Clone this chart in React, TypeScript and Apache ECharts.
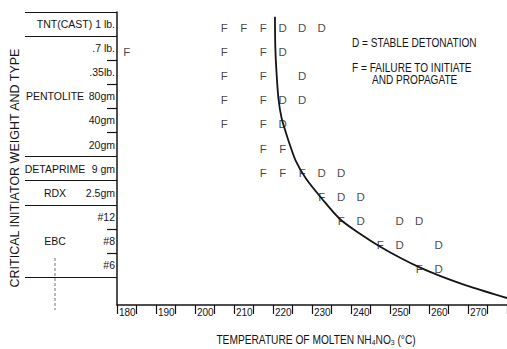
import React, { useEffect, useRef } from "react";
import * as echarts from "echarts";

// Rows (top to bottom) of the initiator axis
const rowLabels = [
  "TNT(CAST) 1 lb.",
  ".7 lb.",
  ".35lb.",
  "80gm",
  "40gm",
  "20gm",
  "9 gm",
  "2.5gm",
  "#12",
  "#8",
  "#6",
];
const groupNames = ["PENTOLITE", "DETAPRIME", "RDX", "EBC"];
const groupLabelRows = [3, 6, 7, 9];
const groupBoundaries = [0, 1, 6, 7, 8, 11];
const innerBoundaries = [2, 3, 4, 5, 9, 10];

// Temperatures (°C) of tests per row: F = failure, D = stable detonation
const failTemps = [
  [207.5, 212.5, 217.5],
  [182.5, 207.5, 217.5],
  [207.5, 217.5],
  [207.5, 217.5],
  [207.5, 217.5],
  [217.5, 222.5],
  [217.5, 222.5, 227.5],
  [232.5],
  [237.5],
  [247.5],
  [257.5],
];
const detTemps = [
  [222.5, 227.5, 232.5],
  [222.5],
  [227.5],
  [222.5, 227.5],
  [222.5],
  [],
  [232.5, 237.5],
  [237.5, 242.5],
  [242.5, 252.5, 257.5],
  [252.5, 262.5],
  [262.5],
];

// Boundary curve: [temperature, row position]
const curveTemps = [220.5, 220.6, 220.9, 221.4, 222.2, 223.3, 224.3, 225.9, 228.4, 232.6, 237.2, 242.3, 247.4, 252.6, 257.6, 262.8, 270.5, 280];
const curveRows = [0.2, 1.5, 2.5, 3.6, 4.4, 5.0, 5.5, 6.2, 6.9, 7.76, 8.6, 9.2, 9.73, 10.2, 10.6, 10.95, 11.4, 11.87];

const FONT = "'Liberation Sans', Arial, sans-serif";
const INK = "#141414";

export default function App() {
  const ref = useRef<HTMLDivElement>(null);
  useEffect(() => {
    if (!ref.current) return;
    const chart = echarts.init(ref.current, null, { renderer: "svg" });
    const toPoints = (arr: number[][]) =>
      arr.flatMap((temps, i) => temps.map((t) => [t, i + 0.5]));
    const letterLabel = (ch: string) => ({
      show: true,
      position: "inside",
      formatter: ch,
      offset: [0, 4],
      fontFamily: FONT,
      fontSize: 11.5,
      color: INK,
    });
    const yRange = { min: 0, max: 12.16, inverse: true };
    chart.setOption({
      animation: false,
      backgroundColor: "#ffffff",
      grid: { left: 117, top: 12, right: 0, bottom: 44, outerBoundsMode: "none", containLabel: false },
      xAxis: {
        type: "value",
        min: 180,
        max: 280,
        interval: 5,
        splitLine: { show: false },
        axisLine: { show: true, onZero: false, lineStyle: { color: INK, width: 1.5 } },
        axisTick: { show: true, length: 9, lineStyle: { color: INK, width: 1.2 } },
        axisLabel: {
          show: true,
          align: "left",
          margin: 2,
          padding: [0, 0, 0, 2],
          fontFamily: FONT,
          fontSize: 10,
          color: INK,
          formatter: (v: number) => (v % 10 === 0 && v < 280 ? String(v) : ""),
        },
      },
      yAxis: [
        {
          type: "value",
          ...yRange,
          position: "left",
          splitLine: { show: false },
          axisLine: { show: true, onZero: false, lineStyle: { color: INK, width: 1.5 } },
          axisTick: { show: true, length: 10, customValues: innerBoundaries, lineStyle: { color: INK, width: 1.2 } },
          axisLabel: {
            show: true,
            customValues: rowLabels.map((_, i) => i + 0.5),
            formatter: (v: number) => rowLabels[Math.round(v - 0.5)] ?? "",
            margin: 2,
            fontFamily: FONT,
            fontSize: 10.5,
            color: INK,
          },
        },
        {
          type: "value",
          ...yRange,
          position: "left",
          offset: 0,
          splitLine: { show: false },
          axisLine: { show: false, onZero: false },
          axisTick: { show: true, length: 92, customValues: groupBoundaries, lineStyle: { color: INK, width: 1.2 } },
          axisLabel: {
            show: true,
            customValues: groupLabelRows.map((r) => r + 0.5),
            formatter: (v: number) => {
              const idx = groupLabelRows.indexOf(Math.round(v - 0.5));
              return idx >= 0 ? groupNames[idx] : "";
            },
            align: "center",
            margin: 62,
            fontFamily: FONT,
            fontSize: 10.5,
            color: INK,
          },
        },
      ],
      series: [
        {
          type: "line",
          data: curveTemps.map((t, i) => [t, curveRows[i]]),
          showSymbol: false,
          smooth: 0.3,
          lineStyle: { color: INK, width: 1.8 },
          z: 1,
        },
        {
          type: "scatter",
          data: toPoints(failTemps),
          symbolSize: 2,
          itemStyle: { color: "rgba(0,0,0,0)" },
          label: letterLabel("F"),
          z: 3,
        },
        {
          type: "scatter",
          data: toPoints(detTemps),
          symbolSize: 2,
          itemStyle: { color: "rgba(0,0,0,0)" },
          label: letterLabel("D"),
          z: 3,
        },
      ],
      graphic: [
        {
          type: "text",
          x: 15,
          y: 168,
          rotation: Math.PI / 2,
          style: {
            text: "CRITICAL INITIATOR WEIGHT AND TYPE",
            fontFamily: FONT,
            fontSize: 12.5,
            fill: INK,
            align: "center",
            verticalAlign: "middle",
          },
        },
        {
          type: "text",
          x: 352,
          y: 43,
          scaleX: 0.84,
          style: { text: "D = STABLE DETONATION", fontFamily: FONT, fontSize: 12, fill: INK, verticalAlign: "middle" },
        },
        {
          type: "text",
          x: 352,
          y: 68,
          scaleX: 0.84,
          style: { text: "F = FAILURE TO INITIATE", fontFamily: FONT, fontSize: 12, fill: INK, verticalAlign: "middle" },
        },
        {
          type: "text",
          x: 372,
          y: 80,
          scaleX: 0.84,
          style: { text: "AND PROPAGATE", fontFamily: FONT, fontSize: 12, fill: INK, verticalAlign: "middle" },
        },
        {
          type: "text",
          x: 316,
          y: 340,
          scaleX: 0.85,
          style: {
            text: "TEMPERATURE OF MOLTEN NH{s|4}NO{s|3} (°C)",
            fontFamily: FONT,
            fontSize: 12,
            fill: INK,
            align: "center",
            verticalAlign: "middle",
            rich: {
              s: { fontFamily: FONT, fontSize: 8, fill: INK, verticalAlign: "bottom", lineHeight: 12 },
            },
          },
        },
        {
          type: "line",
          shape: { x1: 55, y1: 258, x2: 55, y2: 310 },
          style: { stroke: "#8a8a8a", lineWidth: 1.2, lineDash: [3, 2] },
        },
      ],
    });
    return () => chart.dispose();
  }, []);
  return <div ref={ref} style={{ position: "absolute", left: 0, top: 0, width: 507, height: 349 }} />;
}
